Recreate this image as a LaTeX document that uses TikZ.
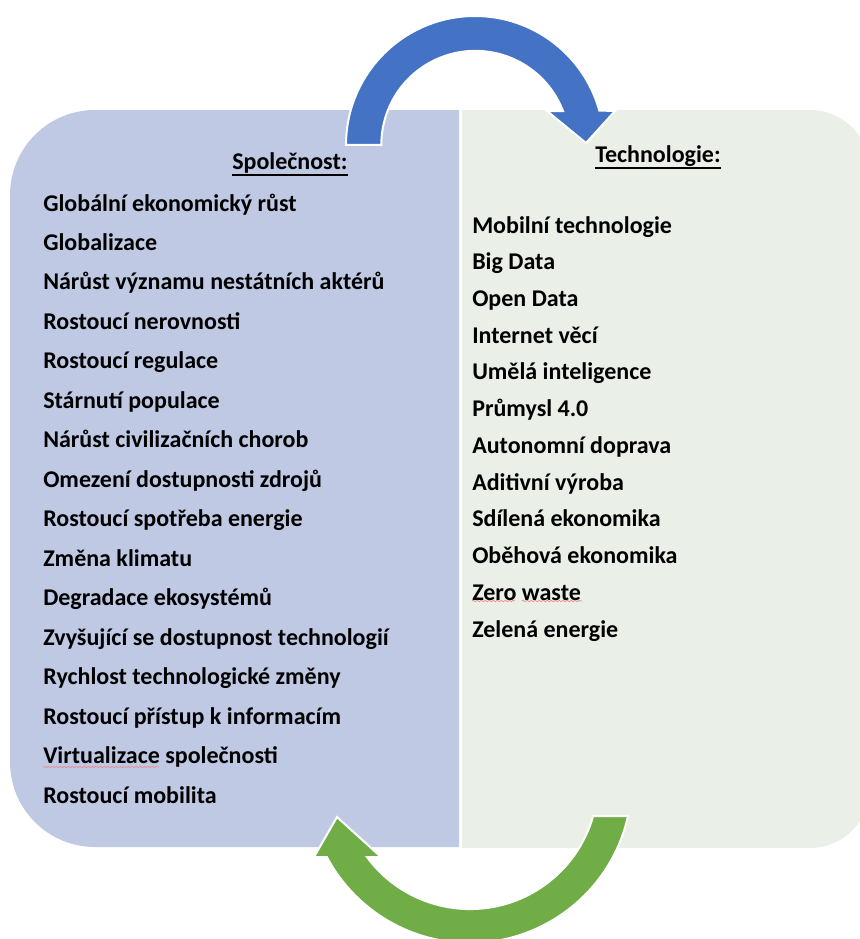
\documentclass[tikz,border=0pt]{standalone}
\usepackage{fontspec}
\setmainfont{Carlito}
\usetikzlibrary{decorations.pathmorphing}
\definecolor{leftfill}{RGB}{191,201,228}
\definecolor{rightfill}{RGB}{234,239,232}
\definecolor{bluearrow}{RGB}{68,114,196}
\definecolor{greenarrow}{RGB}{112,173,71}
\definecolor{spell}{RGB}{238,140,140}
\tikzset{
  item/.style={anchor=base west, inner sep=0pt, font=\fontsize{18}{20}\selectfont\bfseries, text=black},
  header/.style={item},
  uline/.style={line width=1.1pt, black},
  wavy/.style={spell, line width=0.5pt, decorate, decoration={snake, amplitude=0.55pt, segment length=3pt}},
  arrowshape/.style={draw=white, line width=1.5pt, line join=miter}
}
\begin{document}
\begin{tikzpicture}[x=0.75pt, y=-0.75pt]
\useasboundingbox (0,0) rectangle (860,939);
% panels
\path[fill=leftfill] (459,110) -- (95,110) arc[start angle=270, end angle=180, radius=85]
  -- (10,762) arc[start angle=180, end angle=90, radius=85] -- (459,847) -- cycle;
\path[fill=rightfill] (462,110) -- (810,110) arc[start angle=270, end angle=360, radius=60]
  -- (870,788) arc[start angle=0, end angle=90, radius=60] -- (462,848) -- cycle;
% headers
\node[header] (h1) at (232,169) {Společnost:};
\node[header] (h2) at (595,162) {Technologie:};
\draw[uline] ([yshift=-4.5]h1.base west) -- ([yshift=-4.5]h1.base east);
\draw[uline] ([yshift=-4.5]h2.base west) -- ([yshift=-4.5]h2.base east);
% left items
\foreach \t [count=\i] in {Globální ekonomický růst, Globalizace, Nárůst významu nestátních aktérů,
  Rostoucí nerovnosti, Rostoucí regulace, Stárnutí populace, Nárůst civilizačních chorob,
  Omezení dostupnosti zdrojů, Rostoucí spotřeba energie, Změna klimatu, Degradace ekosystémů,
  Zvyšující se dostupnost technologií, Rychlost technologické změny, Rostoucí přístup k informacím,
  Virtualizace společnosti, Rostoucí mobilita}
  \node[item] (l\i) at (43,{211+(\i-1)*39.47}) {\t};
% right items
\foreach \t [count=\i] in {Mobilní technologie, Big Data, Open Data, Internet věcí, Umělá inteligence,
  Průmysl 4.0, Autonomní doprava, Aditivní výroba, Sdílená ekonomika, Oběhová ekonomika,
  Zero waste, Zelená energie}
  \node[item] (r\i) at (472,{233+(\i-1)*36.73}) {\t};
% spell-check marks
\draw[wavy] (472,601) -- (515,601);
\draw[wavy] (522,601) -- (582,601);
\draw[wavy] (43,767) -- (159,767);
% blue arrow (top)
\path[arrowshape, fill=bluearrow] (346,145) arc[start angle=180, end angle=344.5, radius=129]
  -- (615,111) -- (586,143) -- (547,111) -- (563,111)
  arc[start angle=338.9, end angle=180, radius=94] -- cycle;
% green arrow (bottom)
\path[arrowshape, fill=greenarrow] (628,816) arc[start angle=12.5, end angle=152, radius=162]
  -- (314,857) -- (337,817) -- (381,857) -- (367,857)
  arc[start angle=143.6, end angle=15.9, radius=128] -- cycle;
\end{tikzpicture}
\end{document}
